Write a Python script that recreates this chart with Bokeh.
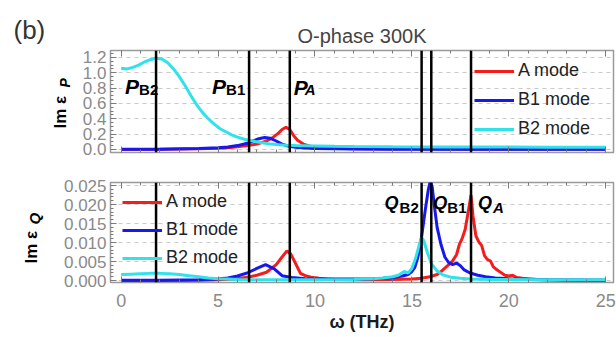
from bokeh.plotting import figure
from bokeh.models import (Range1d, Span, Label, Legend, LegendItem, LinearAxis,
                          FixedTicker, PrintfTickFormatter, CustomJSTickFormatter)
from bokeh.layouts import column, row
from bokeh.embed import file_html
from bokeh.resources import INLINE

FONT = "Liberation Sans"

# ---------------- data ----------------
series_names = ["A mode", "B1 mode", "B2 mode"]

# Im eps_P (top panel)
omega_P_A = [0, 2, 4, 5, 5.5, 6.0, 6.5, 7.0, 7.5, 7.8, 8.1, 8.3, 8.5, 8.7, 8.9, 9.1, 9.4, 9.7,
             10, 10.5, 11, 12, 14, 16, 18, 20, 25]
imP_A = [0.0, 0.003, 0.008, 0.015, 0.022, 0.035, 0.05, 0.07, 0.11, 0.15, 0.21, 0.26, 0.29, 0.26,
         0.18, 0.12, 0.07, 0.045, 0.03, 0.02, 0.015, 0.01, 0.006, 0.005, 0.004, 0.003, 0.002]

omega_P_B1 = [0, 2, 4, 5, 5.5, 6.0, 6.5, 6.8, 7.1, 7.4, 7.7, 8.0, 8.3, 8.6, 9.0, 9.5, 10, 11,
              12, 14, 16, 18, 20, 25]
imP_B1 = [0.002, 0.004, 0.012, 0.022, 0.032, 0.05, 0.08, 0.11, 0.14, 0.155, 0.145, 0.11, 0.07,
          0.045, 0.028, 0.018, 0.012, 0.008, 0.006, 0.004, 0.004, 0.003, 0.002, 0.002]

omega_P_B2 = [0, 0.3, 0.6, 0.9, 1.2, 1.5, 1.8, 2.1, 2.4, 2.7, 3.0, 3.3, 3.6, 3.9, 4.2, 4.5, 4.8,
              5.1, 5.4, 5.7, 6.0, 6.4, 6.8, 7.2, 7.6, 8.0, 8.5, 9.0, 10, 11, 12, 14, 16, 18, 20,
              22, 25]
imP_B2 = [1.06, 1.05, 1.07, 1.10, 1.14, 1.17, 1.19, 1.18, 1.13, 1.05, 0.95, 0.83, 0.70, 0.58,
          0.48, 0.40, 0.33, 0.27, 0.23, 0.19, 0.16, 0.13, 0.11, 0.09, 0.075, 0.065, 0.055, 0.05,
          0.045, 0.04, 0.038, 0.035, 0.033, 0.032, 0.031, 0.03, 0.03]

# Im eps_Q (bottom panel)
omega_Q_A = [0, 2, 4, 5, 6, 6.5, 7.0, 7.5, 8.0, 8.3, 8.55, 8.75, 8.95, 9.25, 9.5, 9.8, 10.2,
             10.6, 11, 12, 13, 14, 15, 15.5, 16.0, 16.3, 16.6, 16.9, 17.1, 17.3, 17.45, 17.6,
             17.75, 17.9, 18.05, 18.15, 18.3, 18.45, 18.6, 18.75, 18.9, 19.05, 19.2, 19.4, 19.6,
             19.8, 20.0, 20.2, 20.4, 20.7, 21, 21.5, 22, 23, 25]
imQ_A = [0.0, 0.0, 0.0001, 0.0002, 0.0005, 0.0009, 0.0014, 0.0022, 0.0042, 0.0062,
         0.0078, 0.0070, 0.0050, 0.0019, 0.0013, 0.0009, 0.0006, 0.0004, 0.0003, 0.0002,
         0.0002, 0.0003, 0.0004, 0.0006, 0.0011, 0.0016, 0.0028, 0.0042, 0.0052, 0.0068,
         0.0095, 0.0112, 0.0135, 0.0180, 0.0225, 0.0170, 0.0118, 0.0102, 0.0092, 0.0065,
         0.0055, 0.0052, 0.0036, 0.0028, 0.0021, 0.0014, 0.0012, 0.0014, 0.0008, 0.0006,
         0.0005, 0.0003, 0.0002, 0.0001, 0.0001]

omega_Q_B1 = [0, 2, 4, 5, 5.5, 6.0, 6.5, 7.0, 7.45, 7.9, 8.3, 8.8, 9.5, 10, 11, 12, 13, 13.5,
              14, 14.5, 14.8, 15.0, 15.15, 15.3, 15.5, 15.7, 15.85, 15.95, 16.05, 16.15, 16.3,
              16.5, 16.7, 16.9, 17.1, 17.3, 17.5, 17.7, 18.0, 18.4, 18.8, 19.3, 20, 21, 22, 25]
imQ_B1 = [0.0001, 0.0001, 0.0002, 0.0004, 0.0007, 0.0012, 0.0020, 0.0032, 0.0042, 0.0031,
          0.0013, 0.0008, 0.0005, 0.0004, 0.0004, 0.0004, 0.0005, 0.0006, 0.0008, 0.0012,
          0.0016, 0.0024, 0.0035, 0.0060, 0.0115, 0.0190, 0.0240, 0.0262, 0.0245, 0.0200,
          0.0140, 0.0095, 0.0062, 0.0047, 0.0042, 0.0046, 0.0039, 0.0028, 0.0020, 0.0014,
          0.0010, 0.0007, 0.0005, 0.0003, 0.0002, 0.0001]

omega_Q_B2 = [0, 0.5, 1.0, 1.5, 2.0, 2.5, 3.0, 3.5, 4.0, 4.5, 5.0, 5.5, 6, 7, 8, 9, 10, 11, 12,
              12.5, 13, 13.5, 14, 14.3, 14.6, 14.8, 15.0, 15.2, 15.4, 15.5, 15.6, 15.8, 16.0,
              16.3, 16.6, 17.0, 17.5, 18, 19, 20, 22, 25]
imQ_B2 = [0.0016, 0.0017, 0.0018, 0.0019, 0.0019, 0.0018, 0.0016, 0.0013, 0.0010, 0.0007,
          0.0005, 0.0004, 0.0003, 0.0002, 0.0002, 0.0002, 0.0002, 0.0002, 0.0003, 0.0004,
          0.0005, 0.0007, 0.0010, 0.0014, 0.0024, 0.0020, 0.0032, 0.0060, 0.0098, 0.0114,
          0.0106, 0.0074, 0.0045, 0.0025, 0.0015, 0.0009, 0.0006, 0.0004, 0.0003, 0.0003,
          0.0002, 0.0002]

# mode frequencies (vertical lines): P_B2, P_B1, P_A, Q_B2, Q_B1, Q_A
mode_lines = [1.8, 6.6, 8.7, 15.5, 16.0, 18.05]

# ticks
x_ticks = [0, 5, 10, 15, 20, 25]
x_minor = list(range(0, 26))
yP_ticks = [0.0, 0.2, 0.4, 0.6, 0.8, 1.0, 1.2]
yP_minor = [round(0.05 * i, 2) for i in range(27)]
yQ_ticks = [0.0, 0.005, 0.010, 0.015, 0.020, 0.025]
yQ_minor = [round(0.001 * i, 3) for i in range(27)]

colors = ["#f41c1c", "#1717ee", "#30e2ea"]

X0, X1 = -0.55, 25.4
YP = (-0.04, 1.29)
YQ = (-0.0005, 0.0258)

TICK_COLOR = "#7a7a7a"
LABEL_COLOR = "#8a8a8a"
HIDE = CustomJSTickFormatter(code="return ''")


def style_axis(ax, ticks, minor, fmt=None, show=True, size="17px"):
    ax.ticker = FixedTicker(ticks=ticks, minor_ticks=minor)
    ax.major_tick_in = 6
    ax.major_tick_out = 0
    ax.minor_tick_in = 3
    ax.minor_tick_out = 0
    ax.major_tick_line_color = TICK_COLOR
    ax.minor_tick_line_color = TICK_COLOR
    ax.axis_line_color = None
    ax.major_label_text_font = FONT
    ax.major_label_text_color = LABEL_COLOR
    ax.major_label_text_font_size = size
    if show:
        ax.formatter = PrintfTickFormatter(format=fmt)
    else:
        ax.formatter = HIDE
        ax.major_label_standoff = 0


def make_fig(w, h, left, top, bottom, yr):
    p = figure(width=w, height=h, x_range=Range1d(X0, X1),
               y_range=Range1d(*yr), output_backend="svg", toolbar_location=None,
               min_border_left=left, min_border_right=3,
               min_border_top=top, min_border_bottom=bottom)
    p.outline_line_color = "#9a9a9a"
    p.outline_line_width = 1.5
    p.xgrid.visible = False
    p.ygrid.grid_line_color = "#c9c9c9"
    p.ygrid.grid_line_dash = "4 4"
    p.ygrid.grid_line_width = 1
    p.border_fill_color = "white"
    top_ax = LinearAxis()
    p.add_layout(top_ax, "above")
    style_axis(top_ax, x_ticks, x_minor, show=False)
    for v in mode_lines:
        p.add_layout(Span(location=v, dimension="height", line_color="black", line_width=2.5))
    return p


def side_fig(w, h, top, bottom, y_frame_top, y_frame_bottom):
    # blank strip beside a panel; its frame lines up with the panel's frame and its
    # data coordinates equal page pixels
    f = figure(width=w, height=h, x_range=Range1d(0, w),
               y_range=Range1d(y_frame_bottom, y_frame_top), output_backend="svg",
               toolbar_location=None, x_axis_type=None, y_axis_type=None,
               min_border_left=0, min_border_right=0,
               min_border_top=top, min_border_bottom=bottom)
    f.outline_line_color = None
    f.xgrid.visible = False
    f.ygrid.visible = False
    return f


def lab(p, x, y, text, size, style="bold", align="left", baseline="alphabetic", angle=0,
        color="black", x_offset=0):
    p.add_layout(Label(x=x, y=y, text=text, text_font=FONT, text_font_size=size,
                       text_font_style=style, text_align=align, text_baseline=baseline,
                       angle=angle, text_color=color, x_offset=x_offset))


# ---------------- top panel ----------------
p1 = make_fig(538, 166, 32, 50, 14, YP)
style_axis(p1.below[0], x_ticks, x_minor, show=False)
style_axis(p1.left[0], yP_ticks, yP_minor, fmt="%.1f")
p1.left[0].major_label_standoff = 4
p1.title.text = "O-phase 300K"
p1.title.align = "center"
p1.title.text_font = FONT
p1.title.text_font_size = "20px"
p1.title.text_font_style = "normal"
p1.title.text_color = "#444444"
p1.title.standoff = 7

r1 = [p1.line(omega_P_A, imP_A, line_color=colors[0], line_width=3),
      p1.line(omega_P_B1, imP_B1, line_color=colors[1], line_width=3),
      p1.line(omega_P_B2, imP_B2, line_color=colors[2], line_width=3)]

leg1 = Legend(items=[LegendItem(label=n, renderers=[r]) for n, r in zip(series_names, r1)],
              location=(364, 13), glyph_width=40, glyph_height=20, label_height=20,
              label_standoff=4, spacing=8, padding=0, margin=0, border_line_color=None,
              background_fill_alpha=0, label_text_font=FONT, label_text_font_size="18px",
              label_text_color="#222222")
p1.add_layout(leg1)

lab(p1, mode_lines[0], 0.82, "P", "21px", "bold italic", x_offset=-31)
lab(p1, mode_lines[0], 0.785, "B2", "15px", "bold", x_offset=-17)
lab(p1, mode_lines[1], 0.82, "P", "21px", "bold italic", x_offset=-37)
lab(p1, mode_lines[1], 0.785, "B1", "15px", "bold", x_offset=-23)
lab(p1, mode_lines[2], 0.81, "P", "21px", "bold italic", x_offset=4)
lab(p1, mode_lines[2], 0.78, "A", "15px", "bold italic", x_offset=15)

lt = side_fig(78, 166, 50, 14, 50, 152)
lt.title.text = "(b)"
lt.title.align = "left"
lt.title.offset = 13
lt.title.standoff = 11
lt.title.text_font = FONT
lt.title.text_font_size = "26px"
lt.title.text_font_style = "normal"
lt.title.text_color = "#333333"
lab(lt, 60, 128, "Im ε", "17px", "bold", angle=1.5708)
lab(lt, 64, 87, "P", "14px", "bold italic", angle=1.5708)

# ---------------- bottom panel ----------------
p2 = make_fig(571, 171, 65, 16, 55, YQ)
ax = p2.below[0]
style_axis(ax, x_ticks, x_minor, fmt="%d", size="18px")
ax.major_label_standoff = 11
ax.axis_label = "ω (THz)"
ax.axis_label_text_font = FONT
ax.axis_label_text_font_size = "18px"
ax.axis_label_text_font_style = "bold"
ax.axis_label_text_color = "#1a1a1a"
ax.axis_label_standoff = 2
style_axis(p2.left[0], yQ_ticks, yQ_minor, fmt="%.3f")
p2.left[0].major_label_standoff = 4

r2 = [p2.line(omega_Q_A, imQ_A, line_color=colors[0], line_width=3),
      p2.line(omega_Q_B1, imQ_B1, line_color=colors[1], line_width=3),
      p2.line(omega_Q_B2, imQ_B2, line_color=colors[2], line_width=3)]

leg2 = Legend(items=[LegendItem(label=n, renderers=[r]) for n, r in zip(series_names, r2)],
              location=(12, 14), glyph_width=40, glyph_height=20, label_height=20,
              label_standoff=4, spacing=7, padding=0, margin=0, border_line_color=None,
              background_fill_alpha=0, label_text_font=FONT, label_text_font_size="18px",
              label_text_color="#222222")
p2.add_layout(leg2)

lab(p2, mode_lines[3], 0.0205, "Q", "18px", "bold italic", x_offset=-37)
lab(p2, mode_lines[3], 0.0192, "B2", "15px", "bold", x_offset=-22)
lab(p2, mode_lines[4], 0.0205, "Q", "18px", "bold italic", x_offset=2)
lab(p2, mode_lines[4], 0.0192, "B1", "15px", "bold", x_offset=16)
lab(p2, mode_lines[5], 0.0205, "Q", "18px", "bold italic", x_offset=7)
lab(p2, mode_lines[5], 0.0192, "A", "15px", "bold italic", x_offset=22)

lb = side_fig(45, 171, 16, 55, 182, 282)
lab(lb, 31, 263, "Im ε", "17px", "bold", angle=1.5708)
lab(lb, 34, 224, "Q", "15px", "bold italic", angle=1.5708)

layout = column(row(lt, p1), row(lb, p2))
open("out.html", "w").write(file_html(layout, INLINE))
